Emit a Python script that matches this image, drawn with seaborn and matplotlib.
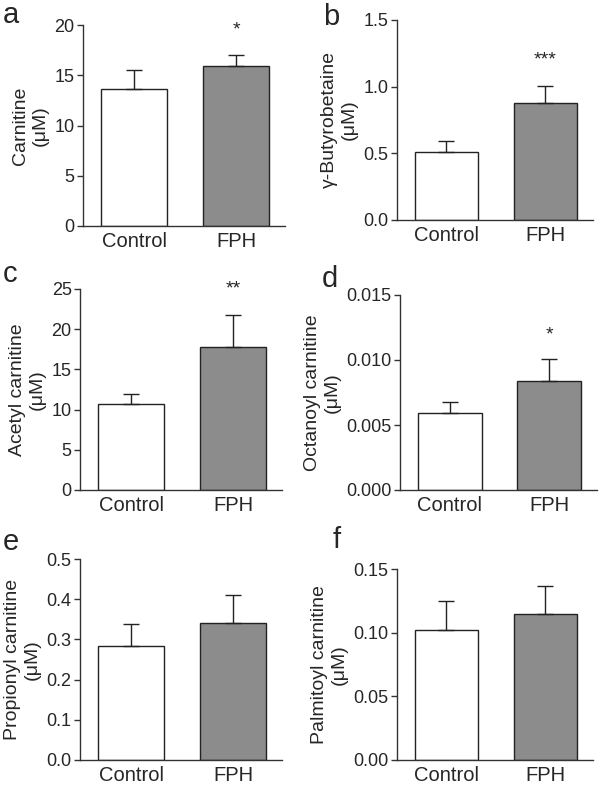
import pandas as pd
import numpy as np
import matplotlib
matplotlib.use('Agg')
import matplotlib.pyplot as plt
import seaborn as sns

# Data (mean and SEM for each panel)
groups = ['Control', 'FPH']
panel_letters = ['a', 'b', 'c', 'd', 'e', 'f']
ylabels = ['Carnitine\n(μM)', 'γ-Butyrobetaine\n(μM)', 'Acetyl carnitine\n(μM)',
           'Octanoyl carnitine\n(μM)', 'Propionyl carnitine\n(μM)', 'Palmitoyl carnitine\n(μM)']
means = [[13.6, 15.9], [0.51, 0.875], [10.7, 17.8],
         [0.0059, 0.0084], [0.283, 0.342], [0.102, 0.115]]
sems = [[1.9, 1.15], [0.08, 0.13], [1.2, 4.0],
        [0.0009, 0.0017], [0.055, 0.069], [0.023, 0.0215]]
stars = ['*', '***', '**', '*', '', '']
star_y = [19.5, 1.2, 25.0, 0.0119, None, None]
yticks = [[0, 5, 10, 15, 20], [0.0, 0.5, 1.0, 1.5], [0, 5, 10, 15, 20, 25],
          [0.000, 0.005, 0.010, 0.015], [0.0, 0.1, 0.2, 0.3, 0.4, 0.5],
          [0.00, 0.05, 0.10, 0.15]]
tick_fmt = ['{:.0f}', '{:.1f}', '{:.0f}', '{:.3f}', '{:.1f}', '{:.2f}']

# axes boxes in pixels: left, right, top, bottom
boxes = [(83, 285, 25, 226), (397, 593, 20, 220), (80, 282, 289, 490),
         (400, 597, 295, 490), (80, 282, 559, 760), (397, 593, 569, 760)]
letter_pos = [(3, 23), (323, 25), (3, 282), (322, 287), (3, 550), (333, 548)]

sns.set_style('white')
plt.rcParams['font.family'] = ['Liberation Sans', 'DejaVu Sans']

W, H = 600, 785
fig = plt.figure(figsize=(W / 100, H / 100), dpi=100)
bar_colors = ['white', '#8c8c8c']

for i in range(6):
    l, r, t, b = boxes[i]
    ax = fig.add_axes([l / W, 1 - b / H, (r - l) / W, (b - t) / H])
    df = pd.DataFrame({'group': groups, 'value': means[i]})
    sns.barplot(data=df, x='group', y='value', hue='group', palette=bar_colors,
                edgecolor='#222222', linewidth=1, width=0.64, errorbar=None,
                legend=False, ax=ax)
    ax.errorbar([0, 1], means[i], yerr=[[0, 0], sems[i]], fmt='none',
                ecolor='#222222', elinewidth=1, capsize=6, capthick=1)
    ax.set_xlim(-0.5, 1.48)
    ax.set_ylim(yticks[i][0], yticks[i][-1])
    ax.set_yticks(yticks[i])
    ax.set_yticklabels([tick_fmt[i].format(v) for v in yticks[i]])
    ax.set_xlabel('')
    ax.set_ylabel(ylabels[i], fontsize=14, multialignment='center', labelpad=4)
    sns.despine(ax=ax)
    for s in ['left', 'bottom']:
        ax.spines[s].set_color('#333333')
        ax.spines[s].set_linewidth(1)
    ax.tick_params(axis='y', direction='out', length=4, width=1, color='#333333',
                   labelsize=13, left=True, pad=2)
    ax.tick_params(axis='x', length=0, labelsize=14.5, pad=4)
    if stars[i]:
        ax.text(1, star_y[i], stars[i], ha='center', va='center', fontsize=14)
    fig.text(letter_pos[i][0] / W, 1 - letter_pos[i][1] / H, panel_letters[i],
             fontsize=21, ha='left', va='baseline')

fig.savefig('out.png', dpi=100, facecolor='white')
